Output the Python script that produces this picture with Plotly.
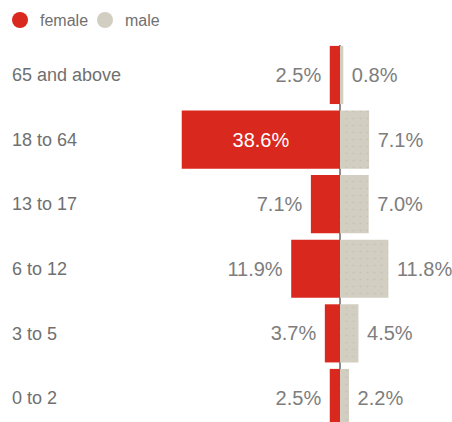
import plotly.graph_objects as go

categories = ["0 to 2", "3 to 5", "6 to 12", "13 to 17", "18 to 64", "65 and above"]
female = [2.5, 3.7, 11.9, 7.1, 38.6, 2.5]
male = [2.2, 4.5, 11.8, 7.0, 7.1, 0.8]

RED = "#D9281E"
BEIGE = "#D2CEC1"
GRAY = "#7d7d7d"
FONT = "Liberation Sans, Arial, sans-serif"

fem_text = [f"\u00a0{v:.1f}%\u00a0" for v in female]
male_text = [f"\u00a0{v:.1f}%" for v in male]
fem_pos = ["inside" if v > 20 else "outside" for v in female]

fig = go.Figure()
fig.add_trace(go.Bar(
    y=categories, x=[-v for v in female], orientation="h",
    marker=dict(color=RED, line=dict(width=0)),
    text=fem_text, textposition=fem_pos, insidetextanchor="middle",
    insidetextfont=dict(color="white", size=20, family=FONT),
    outsidetextfont=dict(color=GRAY, size=20, family=FONT),
    cliponaxis=False, showlegend=False, hoverinfo="skip",
))
fig.add_trace(go.Bar(
    y=categories, x=male, orientation="h",
    marker=dict(color=BEIGE, line=dict(width=0),
                pattern=dict(shape=".", fgcolor="#bdb8aa", bgcolor=BEIGE, size=7, solidity=0.08)),
    text=male_text, textposition="outside",
    outsidetextfont=dict(color=GRAY, size=20, family=FONT),
    cliponaxis=False, showlegend=False, hoverinfo="skip",
))
# legend entries with circular markers
fig.add_trace(go.Scatter(x=[None], y=[None], mode="markers", name="female",
                         marker=dict(symbol="circle", size=16, color=RED)))
fig.add_trace(go.Scatter(x=[None], y=[None], mode="markers", name="male",
                         marker=dict(symbol="circle", size=16, color=BEIGE)))

px_per = 4.1
fig.update_layout(
    width=452, height=422,
    margin=dict(l=0, r=0, t=45, b=0),
    paper_bgcolor="white", plot_bgcolor="white",
    barmode="relative", bargap=0.1,
    font=dict(family=FONT, color=GRAY),
    legend=dict(orientation="h", x=0.0, y=1.021, xanchor="left", yanchor="bottom",
                font=dict(size=16, color="#707070", family=FONT),
                itemwidth=30, entrywidth=40, tracegroupgap=0, bgcolor="rgba(0,0,0,0)"),
    xaxis=dict(range=[-340 / px_per, 112 / px_per], showgrid=False, showticklabels=False,
               zeroline=True, zerolinecolor="#8c8c8c", zerolinewidth=2, layer="above traces",
               fixedrange=True),
    yaxis=dict(range=[-0.372, 5.464], showgrid=False, zeroline=False, showline=False,
               ticks="", ticklabelposition="inside", ticklabelstandoff=9,
               tickfont=dict(size=18, color="#707070", family=FONT), fixedrange=True),
)

fig.write_html("out.html")
